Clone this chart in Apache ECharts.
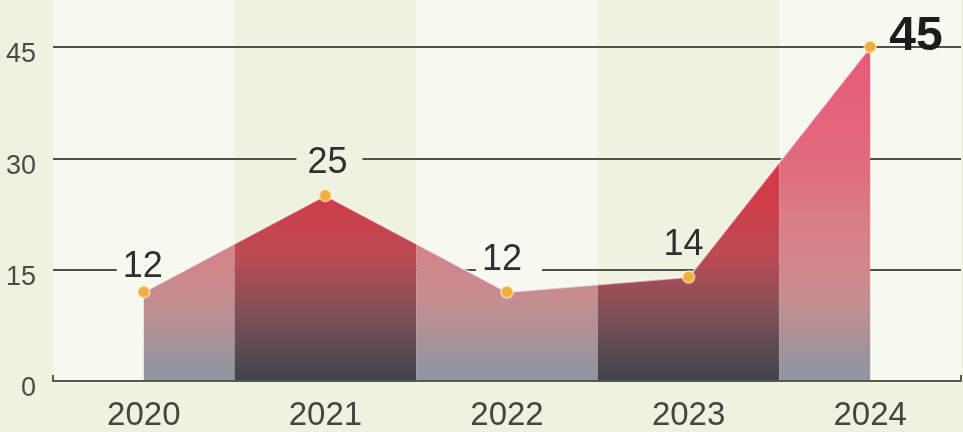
<!DOCTYPE html>
<html>
<head>
<meta charset="utf-8">
<script src="https://cdn.jsdelivr.net/npm/echarts@6/dist/echarts.min.js"></script>
<style>
  html, body { margin: 0; padding: 0; background: #f1f2e3; }
  #chart { width: 963px; height: 432px; }
</style>
</head>
<body>
<div id="chart"></div>
<script>
// ---- data ----
const categories = ['2020', '2021', '2022', '2023', '2024'];
const values = [12, 25, 12, 14, 45];
const yTicks = [0, 15, 30, 45];

// ---- styling ----
const FONT = '"Liberation Sans", "Noto Sans", sans-serif';
const LIGHT_BG = '#f7f8f0';
const CREAM_BG = '#f0f2e1';
const GRID = { left: 53, right: 2, top: 47, bottom: 49 };
// per-label style tweaks (padding masks the gridlines, shift centres the text)
const labelPadLeft = [6, 11, 6, 0, 0];
const labelPadRight = [28, 15, 20, 0, 0];
const labelShiftX = [10, 4, 2, -5, 0];
const labelShiftY = [7, 0, 0, 0, -10];

const darkFill = {
  type: 'linear', x: 0, y: 0, x2: 0, y2: 1,
  colorStops: [
    { offset: 0, color: '#e23a52' },
    { offset: 0.44, color: '#d13b48' },
    { offset: 0.62, color: '#bd4a52' },
    { offset: 0.8, color: '#805058' },
    { offset: 1, color: '#3e444c' }
  ]
};
const lightFill = {
  type: 'linear', x: 0, y: 0, x2: 0, y2: 1,
  colorStops: [
    { offset: 0, color: '#e8587a' },
    { offset: 0.35, color: '#e06c7e' },
    { offset: 0.55, color: '#d88088' },
    { offset: 0.75, color: '#c68d90' },
    { offset: 1, color: '#8c96a0' }
  ]
};

const chart = echarts.init(document.getElementById('chart'), null, { renderer: 'canvas' });

const lastIdx = values.length - 1;

const labelData = values.map(function (v, i) {
  const isLast = i === lastIdx;
  return {
    value: v,
    label: isLast ? {
      show: true,
      position: 'right',
      distance: 13,
      offset: [labelShiftX[i], labelShiftY[i]],
      fontFamily: FONT,
      fontWeight: 'bold',
      fontSize: 48,
      color: '#1c1c1c'
    } : {
      show: true,
      position: 'top',
      distance: 8,
      offset: [labelShiftX[i], labelShiftY[i]],
      fontFamily: FONT,
      fontSize: 36,
      color: '#2f2f2f',
      backgroundColor: i % 2 === 0 ? LIGHT_BG : CREAM_BG,
      padding: [0, labelPadRight[i], 0, labelPadLeft[i]]
    }
  };
});

const option = {
  backgroundColor: CREAM_BG,
  animation: false,
  grid: [
    Object.assign({}, GRID),
    { left: GRID.left, right: GRID.right, top: 0, bottom: GRID.bottom }
  ],
  xAxis: [
    {
      type: 'category',
      gridIndex: 0,
      data: categories,
      boundaryGap: true,
      z: 3,
      axisLine: { show: true, lineStyle: { color: '#55584a', width: 2 } },
      axisTick: {
        show: true, inside: true, length: 6,
        interval: function (idx) { return idx === 0; },
        lineStyle: { color: '#55584a', width: 2 }
      },
      axisLabel: { fontFamily: FONT, fontSize: 33, color: '#45453f', margin: 18 },
      splitLine: { show: false },
      splitArea: { show: false }
    },
    {
      type: 'category',
      gridIndex: 1,
      data: categories,
      boundaryGap: true,
      z: 0,
      axisLine: { show: false },
      axisTick: { show: false },
      axisLabel: { show: false },
      splitLine: { show: false },
      splitArea: { show: true, areaStyle: { color: [LIGHT_BG, CREAM_BG] } }
    }
  ],
  yAxis: [
    {
      type: 'value',
      gridIndex: 0,
      min: yTicks[0],
      max: yTicks[yTicks.length - 1],
      interval: yTicks[1] - yTicks[0],
      z: 1,
      axisLine: { show: false },
      axisTick: { show: false },
      axisLabel: {
        fontFamily: FONT, fontSize: 27, color: '#4b4b45', margin: 17,
        verticalAlign: 'top', lineHeight: 16
      },
      splitLine: { show: true, lineStyle: { color: '#4f5248', width: 2 } }
    },
    { type: 'value', gridIndex: 1, show: false }
  ],
  series: [
    {
      // value labels (under the area so their backgrounds only mask gridlines)
      type: 'line',
      xAxisIndex: 0,
      yAxisIndex: 0,
      z: 1.5,
      data: labelData,
      symbol: 'circle',
      symbolSize: 12,
      showSymbol: true,
      itemStyle: { color: 'rgba(0,0,0,0)' },
      lineStyle: { width: 0, opacity: 0 },
      emphasis: { disabled: true },
      silent: true
    },
    {
      type: 'custom',
      xAxisIndex: 0,
      yAxisIndex: 0,
      z: 2,
      data: values.map(function (v, i) { return [i, v]; }),
      renderItem: function (params, api) {
        const i = params.dataIndex;
        const pts = values.map(function (v, j) { return api.coord([j, v]); });
        pts.push(api.coord([lastIdx, 0]));
        pts.push(api.coord([0, 0]));
        const c = api.coord([i, 0]);
        const bw = api.size([1, 0])[0];
        const cs = params.coordSys;
        return {
          type: 'polygon',
          shape: { points: pts },
          style: { fill: i % 2 === 1 ? darkFill : lightFill },
          clipPath: {
            type: 'rect',
            shape: { x: c[0] - bw / 2, y: cs.y - 20, width: bw, height: cs.height + 20 }
          }
        };
      }
    },
    {
      type: 'line',
      xAxisIndex: 0,
      yAxisIndex: 0,
      z: 4,
      data: values,
      symbol: 'circle',
      symbolSize: 12,
      itemStyle: { color: '#f0ae3c', borderColor: 'rgba(255,248,220,0.5)', borderWidth: 2 },
      lineStyle: { color: 'rgba(255,255,255,0.6)', width: 2 },
      emphasis: { disabled: true }
    }
  ]
};

chart.setOption(option);
</script>
</body>
</html>
